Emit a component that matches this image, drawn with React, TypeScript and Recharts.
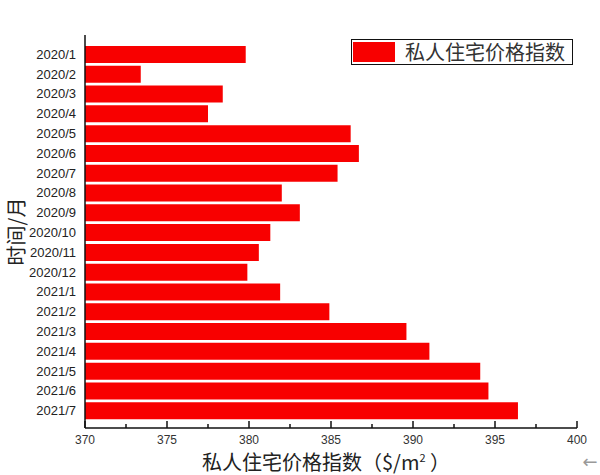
import {
    BarChart,
    Bar,
    XAxis,
    YAxis,
    Legend,
} from "recharts";

// months shown on the category axis
const months = [
    "2020/1", "2020/2", "2020/3", "2020/4", "2020/5", "2020/6", "2020/7",
    "2020/8", "2020/9", "2020/10", "2020/11", "2020/12",
    "2021/1", "2021/2", "2021/3", "2021/4", "2021/5", "2021/6", "2021/7",
];

// private residential price index
const priceIndex = [
    379.8, 373.4, 378.4, 377.5, 386.2, 386.7, 385.4,
    382.0, 383.1, 381.3, 380.6, 379.9,
    381.9, 384.9, 389.6, 391.0, 394.1, 394.6, 396.4,
];

const xTicks = [370, 372.5, 375, 377.5, 380, 382.5, 385, 387.5, 390, 392.5, 395, 397.5, 400];
const xDomain: [number, number] = [370, 400];

const seriesName = "私人住宅价格指数";
const xTitle = "私人住宅价格指数（$/m";
const yTitle = "时间/月";

const RED = "#f80000";
const CJK = '"Noto Sans CJK SC", sans-serif';
const LATIN = '"Liberation Sans", Arial, sans-serif';

const data = months.map((month, i) => ({ month, value: priceIndex[i] }));

// ticks drawn inward (upwards) with minor ticks every 2.5
const XTick = (props: any) => {
    const { x, y, payload } = props;
    const major = payload.value % 5 === 0;
    return (
        <g>
            <line x1={x} x2={x} y1={y} y2={y - (major ? 7 : 4)} stroke="#111" strokeWidth={1.5} />
            {major && (
                <text x={x} y={y + 16} textAnchor="middle" fontSize={12} fontFamily={LATIN} fill="#333">
                    {payload.value}
                </text>
            )}
        </g>
    );
};

const YTick = (props: any) => {
    const { x, y, payload } = props;
    return (
        <text x={x} y={y} dy={4} textAnchor="end" fontSize={13} fontFamily={LATIN} fill="#222">
            {payload.value}
        </text>
    );
};

const LegendBox = () => (
    <div
        style={{
            display: "flex",
            alignItems: "center",
            border: "1.5px solid #111",
            background: "#fff",
            padding: "1px 4px 1px 1px",
            height: 22,
        }}
    >
        <span style={{ width: 42, height: 20, background: RED, display: "inline-block" }} />
        <span style={{ marginLeft: 10, fontSize: 20, fontFamily: CJK, color: "#333", lineHeight: "22px" }}>
            {seriesName}
        </span>
    </div>
);

export default function App() {
    return (
        <div style={{ position: "absolute", left: 0, top: 0, width: 600, height: 475, background: "#fff" }}>
            <BarChart
                width={600}
                height={475}
                data={data}
                layout="vertical"
                margin={{ top: 35, right: 23, left: 0, bottom: 0 }}
            >
                <XAxis
                    type="number"
                    domain={xDomain}
                    ticks={xTicks}
                    allowDataOverflow
                    interval={0}
                    height={47}
                    tickSize={0}
                    tickMargin={0}
                    tickLine={false}
                    tick={<XTick />}
                    axisLine={{ stroke: "#111", strokeWidth: 1.5 }}
                    label={{
                        content: ({ viewBox }: any) => (
                            <g>
                                <text
                                    x={viewBox.x + viewBox.width / 2 - 5}
                                    y={viewBox.y + 42}
                                    textAnchor="middle"
                                    fontSize={20}
                                    fontFamily={CJK}
                                    fill="#222"
                                >
                                    {xTitle}
                                    <tspan fontSize={11} dy={-8}>2</tspan>
                                    <tspan dy={8}>{" ）"}</tspan>
                                </text>
                                <text
                                    x={590}
                                    y={viewBox.y + 40}
                                    textAnchor="middle"
                                    fontSize={18}
                                    fontFamily='"DejaVu Sans", sans-serif'
                                    fill="#999"
                                >
                                    ←
                                </text>
                            </g>
                        ),
                    }}
                />
                <XAxis
                    xAxisId="top"
                    orientation="top"
                    type="number"
                    domain={xDomain}
                    allowDataOverflow
                    height={0}
                    tick={false}
                    tickLine={false}
                    axisLine={{ stroke: "#111", strokeWidth: 1.5 }}
                />
                <YAxis
                    type="category"
                    dataKey="month"
                    width={85}
                    interval={0}
                    padding={{ top: 10, bottom: 7 }}
                    tickLine={false}
                    tickMargin={3}
                    tick={<YTick />}
                    axisLine={{ stroke: "#111", strokeWidth: 1.5 }}
                    label={{
                        content: ({ viewBox }: any) => {
                            const cy = viewBox.y + viewBox.height / 2;
                            return (
                                <text
                                    x={15}
                                    y={cy}
                                    transform={`rotate(-90, 15, ${cy})`}
                                    textAnchor="middle"
                                    dominantBaseline="central"
                                    fontSize={20}
                                    fontFamily={CJK}
                                    fill="#222"
                                >
                                    {yTitle}
                                </text>
                            );
                        },
                    }}
                />
                <YAxis
                    yAxisId="right"
                    orientation="right"
                    type="category"
                    dataKey="month"
                    width={0}
                    tick={false}
                    tickLine={false}
                    axisLine={{ stroke: "#111", strokeWidth: 1.5 }}
                />
                <Legend
                    layout="vertical"
                    verticalAlign="middle"
                    align="center"
                    content={() => <LegendBox />}
                    wrapperStyle={{ top: 39, left: 351, width: 222 }}
                />
                <Bar
                    dataKey="value"
                    name={seriesName}
                    fill={RED}
                    barSize={17}
                    isAnimationActive={false}
                />
            </BarChart>
        </div>
    );
}
